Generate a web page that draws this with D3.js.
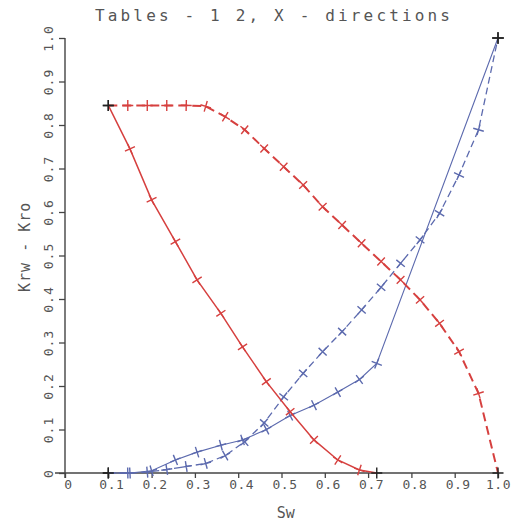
<!DOCTYPE html>
<html><head><meta charset="utf-8">
<script src="https://cdn.jsdelivr.net/npm/d3@7"></script>
<style>body{margin:0;background:#fff}svg{display:block}</style>
</head><body><svg id="c" width="513" height="525"></svg>
<script>
// ---- data ----
const xTicks = [0,0.1,0.2,0.3,0.4,0.5,0.6,0.7,0.8,0.9,1.0];
const xTickLabels = ["0","0.1","0.2","0.3","0.4","0.5","0.6","0.7","0.8","0.9","1.0"];
const yTicks = [0,0.1,0.2,0.3,0.4,0.5,0.6,0.7,0.8,0.9,1.0];
const yTickLabels = ["0","0.1","0.2","0.3","0.4","0.5","0.6","0.7","0.8","0.9","1.0"];

// Table 1 (solid)
const tab1Sw  = [0.10, 0.15, 0.20, 0.255, 0.305, 0.36, 0.41, 0.465, 0.52, 0.575, 0.63, 0.68, 0.72];
const tab1Kro = [0.845, 0.745, 0.628, 0.532, 0.444, 0.367, 0.290, 0.210, 0.141, 0.076, 0.030, 0.007, 0.0];
const tab1KrwSw = [0.10, 0.15, 0.20, 0.255, 0.305, 0.36, 0.41, 0.465, 0.52, 0.575, 0.63, 0.68, 0.72, 1.0];
const tab1Krw = [0.0, 0.0, 0.005, 0.030, 0.048, 0.064, 0.076, 0.100, 0.132, 0.156, 0.186, 0.215, 0.252, 1.0];
const tab1KrwMarked = 13; // markers only on table points up to Sw=0.72

// Table 2 (dashed)
const tab2Sw  = [0.1, 0.145, 0.19, 0.235, 0.28, 0.325, 0.37, 0.415, 0.46, 0.505, 0.55, 0.595, 0.64, 0.685, 0.73, 0.775, 0.82, 0.865, 0.91, 0.955, 1.0];
const tab2Kro = [0.845, 0.845, 0.845, 0.845, 0.845, 0.843, 0.819, 0.789, 0.746, 0.704, 0.662, 0.612, 0.570, 0.528, 0.486, 0.444, 0.398, 0.344, 0.279, 0.183, 0.0];
const tab2Krw = [0.0, 0.0, 0.002, 0.008, 0.015, 0.022, 0.040, 0.072, 0.115, 0.175, 0.229, 0.279, 0.325, 0.375, 0.427, 0.482, 0.536, 0.597, 0.685, 0.789, 1.0];

const title = "Tables - 1 2, X - directions";
const xLabel = "Sw";
const yLabel = "Krw - Kro";

// ---- drawing ----
const svg = d3.select("#c");
const x = d3.scaleLinear().domain([0,1]).range([65,498]);
const y = d3.scaleLinear().domain([0,1]).range([473,38]);
const axisCol = "#444", textCol = "#555";
const mono = "'DejaVu Sans Mono', monospace";

// title
svg.append("text").attr("x",95).attr("y",21).attr("font-family",mono).attr("font-size",16)
  .attr("fill",textCol).attr("textLength",355).attr("lengthAdjust","spacing").text(title);

// x axis
const gx = svg.append("g").attr("transform",`translate(0,${y(0)})`)
  .call(d3.axisBottom(x).tickValues(xTicks).tickFormat((d,i)=>xTickLabels[i]).tickSize(5).tickSizeOuter(0));
gx.select(".domain").remove();
gx.selectAll("line").attr("stroke",axisCol).attr("stroke-width",1.3);
gx.selectAll("text").attr("font-family",mono).attr("font-size",13).attr("fill",textCol)
  .attr("letter-spacing",0.5).attr("dx",(d,i)=> i===xTicks.length-1 ? 0 : 3).attr("dy","0.6em");
svg.append("line").attr("x1",x(0)-10).attr("x2",x(1)).attr("y1",y(0)).attr("y2",y(0))
  .attr("stroke",axisCol).attr("stroke-width",1.4);

// y axis
const gy = svg.append("g").attr("transform",`translate(${x(0)},0)`)
  .call(d3.axisLeft(y).tickValues(yTicks).tickFormat((d,i)=>yTickLabels[i]).tickSize(6).tickSizeOuter(0));
gy.select(".domain").remove();
gy.selectAll("line").attr("stroke",axisCol).attr("stroke-width",1.3);
gy.selectAll("text").attr("font-family",mono).attr("font-size",13).attr("fill",textCol)
  .attr("letter-spacing",1).attr("text-anchor","middle").attr("dy",0).attr("x",0)
  .attr("transform","translate(-12,0) rotate(-90)");
svg.append("line").attr("x1",x(0)).attr("x2",x(0)).attr("y1",y(0)+5).attr("y2",y(1))
  .attr("stroke",axisCol).attr("stroke-width",1.4);

// axis titles
svg.append("text").attr("x",x(0.51)).attr("y",518).attr("text-anchor","middle")
  .attr("font-family",mono).attr("font-size",15).attr("fill",textCol).text(xLabel);
svg.append("text").attr("transform",`translate(30,${y(0.52)}) rotate(-90)`).attr("text-anchor","middle")
  .attr("font-family",mono).attr("font-size",15).attr("fill",textCol).attr("letter-spacing",1).text(yLabel);

const line = d3.line().x(d=>x(d[0])).y(d=>y(d[1]));

function series(sw, vals, color, width, dash, nMarked){
  const pts = sw.map((s,i)=>[s, vals[i]]);
  svg.append("path").attr("d",line(pts)).attr("fill","none").attr("stroke",color)
    .attr("stroke-width",width).attr("stroke-dasharray",dash||null);
  const n = nMarked==null ? pts.length : nMarked;
  const px = pts.map(p=>[x(p[0]),y(p[1])]);
  for(let i=0;i<n;i++){
    const [cx,cy] = px[i];
    const a = px[Math.max(0,i-1)], b = px[Math.min(px.length-1,i+1)];
    const ang = Math.atan2(b[1]-a[1], b[0]-a[0]);
    const r = 5.5;
    const c = Math.cos(ang), s = Math.sin(ang);
    const endpoint = (i===0 || i===pts.length-1);
    const col = endpoint ? "#222" : color;
    const ca = endpoint ? 1 : c, sa = endpoint ? 0 : s;
    svg.append("path")
      .attr("d",`M${cx-r*ca},${cy-r*sa}L${cx+r*ca},${cy+r*sa}M${cx+r*sa},${cy-r*ca}L${cx-r*sa},${cy+r*ca}`)
      .attr("stroke",col).attr("stroke-width",1.4).attr("fill","none");
  }
}

const red = "#d6403f", blue = "#5c6aae";
series(tab1KrwSw, tab1Krw, blue, 1.1, null, tab1KrwMarked);
series(tab2Sw, tab2Krw, blue, 1.3, "7,4");
series(tab2Sw, tab2Kro, red, 2, "9,5");
series(tab1Sw, tab1Kro, red, 1.5, null);
// endpoint of Krw table 1 at Sw=1.0
{
  const i = tab1KrwSw.length-1, cx = x(tab1KrwSw[i]), cy = y(tab1Krw[i]);
  svg.append("path").attr("d",`M${cx-6},${cy}L${cx+6},${cy}M${cx},${cy-6}L${cx},${cy+6}`)
    .attr("stroke","#222").attr("stroke-width",1.4);
}
</script></body></html>
